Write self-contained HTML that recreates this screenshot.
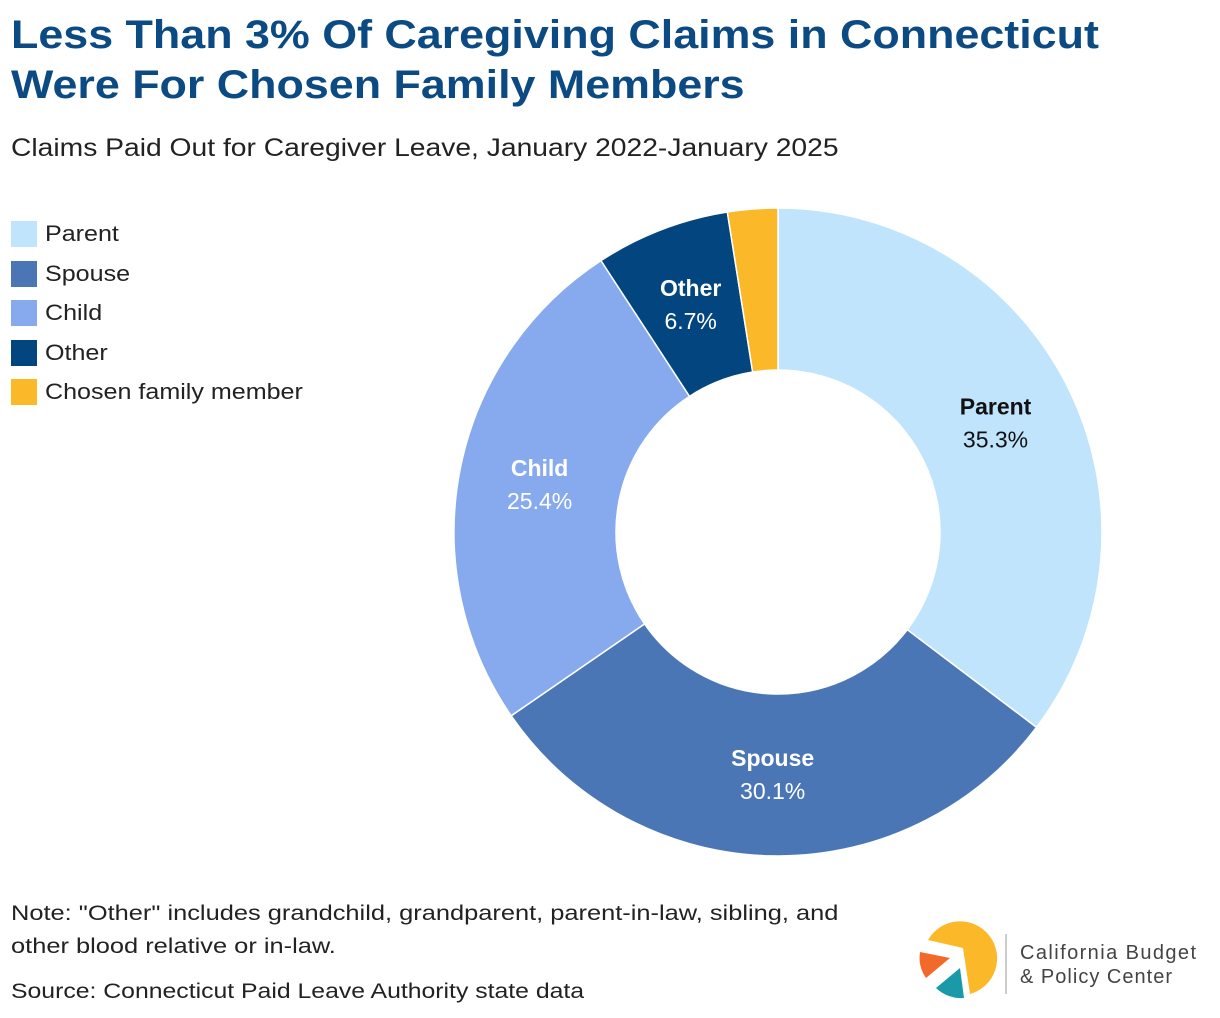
<!DOCTYPE html>
<html><head><meta charset="utf-8"><style>
body{margin:0;width:1220px;height:1018px;background:#fff;font-family:"Liberation Sans",sans-serif;position:relative;overflow:hidden}
.t{position:absolute;left:11px;top:10px;color:#0b4a82;font-weight:bold;font-size:40px;line-height:50px;transform:scaleX(1.12);transform-origin:0 0;white-space:nowrap}
.s{position:absolute;left:11px;top:134px;font-size:25px;color:#222;transform:scaleX(1.13);transform-origin:0 0;white-space:nowrap}
.lg{position:absolute;left:11px;font-size:22px;color:#222;display:flex;align-items:center;height:28px;white-space:nowrap}
.lg i{display:inline-block;width:26px;height:26px;margin-right:8px}
.lg span{display:inline-block;transform:scaleX(1.14);transform-origin:0 50%}
.n{position:absolute;left:11px;font-size:21px;color:#222;line-height:33px;transform:scaleX(1.18);transform-origin:0 0;white-space:nowrap}
</style></head><body>
<div class="t">Less Than 3% Of Caregiving Claims in Connecticut<br>Were For Chosen Family Members</div>
<div class="s">Claims Paid Out for Caregiver Leave, January 2022-January 2025</div>
<div id="legend"></div>
<svg id="chart" width="1220" height="1018" style="position:absolute;left:0;top:0"></svg>
<div class="n" style="top:897px;transform:scaleX(1.21)">Note: "Other" includes grandchild, grandparent, parent-in-law, sibling, and<br>other blood relative or in-law.</div>
<div class="n" style="top:975px">Source: Connecticut Paid Leave Authority state data</div>
<svg width="300" height="90" style="position:absolute;left:910px;top:918px">
<path d="M18 22 A37 37 0 1 1 60 76 L53 30 Z" fill="#fbb829"/>
<path d="M10 34 L40 40 L16 60 A36 36 0 0 1 10 34Z" fill="#f26a2a"/>
<path d="M26 70 L50 50 L54 80 A36 36 0 0 1 26 70Z" fill="#1a9aa8"/>
<line x1="96" y1="16" x2="96" y2="76" stroke="#bbb" stroke-width="1.5"/>
<text x="110" y="41" font-size="20" fill="#444" font-family="Liberation Sans" textLength="176">California Budget</text>
<text x="110" y="65" font-size="20" fill="#444" font-family="Liberation Sans" textLength="152">&amp; Policy Center</text>
</svg>
<script>
const categories=["Parent","Spouse","Child","Other","Chosen family member"];
const values=[35.3,30.1,25.4,6.7,2.5];
const labels=["35.3%","30.1%","25.4%","6.7%",""];
const colors=["#bfe4fc","#4a76b5","#86aaed","#03457e","#fbb829"];
const textColors=["#111","#fff","#fff","#fff","#fff"];
const cx=778,cy=532,R=324,r=162,NS="http://www.w3.org/2000/svg";
const svg=document.getElementById('chart');
const tot=values.reduce((a,b)=>a+b,0);
function pt(a,rad){return [cx+rad*Math.sin(a),cy-rad*Math.cos(a)];}
let acc=0;
values.forEach((v,i)=>{
 const a0=acc/tot*2*Math.PI;acc+=v;const a1=acc/tot*2*Math.PI;
 const lg=(a1-a0)>Math.PI?1:0;
 const p1=pt(a0,R),p2=pt(a1,R),p3=pt(a1,r),p4=pt(a0,r);
 const p=document.createElementNS(NS,'path');
 p.setAttribute('d',`M${p1} A${R} ${R} 0 ${lg} 1 ${p2} L${p3} A${r} ${r} 0 ${lg} 0 ${p4}Z`);
 p.setAttribute('fill',colors[i]);p.setAttribute('stroke','#fff');p.setAttribute('stroke-width','1.5');
 
 
 svg.appendChild(p);
 if(labels[i]){
  const m=pt((a0+a1)/2,243);
  [[categories[i],-9,'bold'],[labels[i],24,'normal']].forEach(([t,dy,w],k)=>{
   const tx=document.createElementNS(NS,'text');
   tx.setAttribute('x',m[0]);tx.setAttribute('y',m[1]+dy);tx.setAttribute('text-anchor','middle');
   tx.setAttribute('font-size','23');tx.setAttribute('font-weight',w);tx.setAttribute('fill',textColors[i]);
   tx.setAttribute('font-family','Liberation Sans');
   
   
   tx.textContent=t;svg.appendChild(tx);
  });
 }
});
const lgd=document.getElementById('legend');
categories.forEach((c,i)=>{
 const d=document.createElement('div');d.className='lg';d.style.top=(220+i*39.5)+'px';
 
 
 d.innerHTML='<i style="background:'+colors[i]+'"></i><span>'+c+'</span>';lgd.appendChild(d);
});
</script>
</body></html>
